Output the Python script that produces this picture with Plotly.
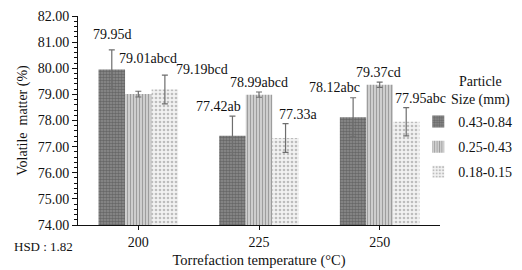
import plotly.graph_objects as go

categories = ["200", "225", "250"]
series_names = ["0.43-0.84", "0.25-0.43", "0.18-0.15"]
values = [
    [79.95, 77.42, 78.12],
    [79.01, 78.99, 79.37],
    [79.19, 77.33, 77.95],
]
errors = [
    [0.75, 0.75, 0.75],
    [0.11, 0.10, 0.10],
    [0.55, 0.55, 0.54],
]
letters = [
    ["d", "ab", "abc"],
    ["abcd", "abcd", "cd"],
    ["bcd", "a", "abc"],
]
hsd_text = "HSD : 1.82"
legend_title = "Particle<br>Size (mm)"

FONT = "Liberation Serif, Times New Roman, serif"

patterns = [
    dict(shape=".", bgcolor="#8e8e8e", fgcolor="#404040", size=3, solidity=0.55),
    dict(shape="|", bgcolor="#d4d4d4", fgcolor="#666666", size=3, solidity=0.4),
    dict(shape=".", bgcolor="#f2f2f2", fgcolor="#888888", size=4, solidity=0.35),
]

fig = go.Figure()
for i, name in enumerate(series_names):
    fig.add_trace(go.Bar(
        x=categories, y=values[i], name=name,
        marker=dict(color=patterns[i]["bgcolor"], line=dict(width=0),
                    pattern=patterns[i]),
        error_y=dict(type="data", array=errors[i], color="#6e6e6e",
                     thickness=1.2, width=3),
        legendgroup=str(i),
    ))

# label offsets (pixels) relative to category centre / error-bar top
label_xshift = [
    [-26, -41, -45],
    [10, 0, -1],
    [64, 39, 41],
]
label_yshift = [
    [15, 10, 10],
    [33, 10, 10],
    [6, 9, 9],
]
for i in range(3):
    for j in range(3):
        fig.add_annotation(
            xref="x", yref="y",
            x=j, y=values[i][j] + errors[i][j],
            text=f"{values[i][j]:.2f}{letters[i][j]}",
            showarrow=False, xshift=label_xshift[i][j],
            yshift=label_yshift[i][j],
            font=dict(family=FONT, size=14, color="#111"),
            xanchor="center", yanchor="middle",
        )

fig.add_annotation(
    xref="paper", yref="paper", x=-0.183, y=-0.105,
    text=hsd_text, showarrow=False, xanchor="left", yanchor="middle",
    font=dict(family=FONT, size=13, color="#111"),
)
fig.add_annotation(
    xref="paper", yref="paper", x=1.112, y=0.643,
    text=legend_title, showarrow=False, xanchor="center", yanchor="middle",
    align="center",
    font=dict(family=FONT, size=14, color="#111"),
)

# page body has an 8px margin; compensate so the plot lands where intended
fig.update_layout(
    width=514, height=262,
    margin=dict(l=70, r=82, t=8, b=45, autoexpand=False),
    paper_bgcolor="white", plot_bgcolor="white",
    barmode="group", bargap=0.34, bargroupgap=0,
    font=dict(family=FONT, size=14, color="#111"),
    showlegend=True,
    legend=dict(
        x=0.94, y=0.57, xanchor="left", yanchor="top",
        bgcolor="rgba(0,0,0,0)",
        font=dict(family=FONT, size=14),
        traceorder="grouped", tracegroupgap=4,
        itemsizing="constant", itemwidth=30,
    ),
    xaxis=dict(
        type="category", automargin=False,
        showline=True, linecolor="#111", linewidth=1,
        ticks="outside", ticklen=4, tickcolor="#111",
        title=dict(text="Torrefaction temperature (°C)", standoff=6,
                   font=dict(family=FONT, size=14.5)),
        tickfont=dict(family=FONT, size=14),
        range=[-0.5, 2.5],
    ),
    yaxis=dict(
        automargin=False,
        range=[74, 82], dtick=1, tickformat=".2f",
        showline=True, linecolor="#111", linewidth=1,
        ticks="outside", ticklen=5, tickcolor="#111",
        minor=dict(dtick=0.2, ticks="outside", ticklen=3, tickcolor="#111"),
        showgrid=False, zeroline=False,
        title=dict(text="Volatile  matter (%)", standoff=6,
                   font=dict(family=FONT, size=14)),
        tickfont=dict(family=FONT, size=14),
    ),
)

fig.write_html("out.html")
